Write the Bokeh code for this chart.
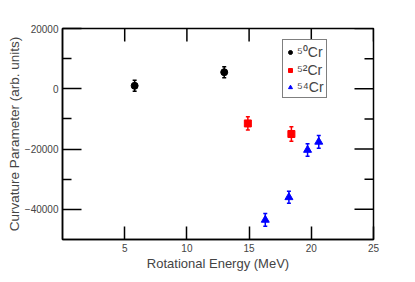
import math
from bokeh.plotting import figure
from bokeh.models import (ColumnDataSource, Whisker, FixedTicker, Legend, LegendItem, Range1d, TeeHead)
from bokeh.embed import file_html
from bokeh.resources import INLINE

# Data
cr50_x = [5.8, 13.0]
cr50_y = [1000, 5500]
cr50_err = [1800, 1800]

cr52_x = [14.9, 18.4]
cr52_y = [-11500, -15000]
cr52_err = [2200, 2400]

cr54_x = [16.3, 18.2, 19.7, 20.6]
cr54_y = [-43500, -36000, -20300, -17600]
cr54_err = [2100, 2000, 2100, 2100]

x_ticks = [5, 10, 15, 20, 25]
y_ticks = [-40000, -20000, 0, 20000]
y_minor = [-30000, -10000, 10000]
y_labels = {-40000: "\u221240000", -20000: "\u221220000", 0: "0", 20000: "20000"}

X_MIN, X_MAX = 0, 25
Y_MIN, Y_MAX = -50000, 20000

FONT = "Liberation Sans"

p = figure(width=410, height=278, output_backend="svg", toolbar_location=None,
           x_range=Range1d(X_MIN, X_MAX), y_range=Range1d(Y_MIN, Y_MAX),
           min_border_left=62, min_border_top=28, min_border_right=37, min_border_bottom=39,
           x_axis_label="Rotational Energy (MeV)",
           y_axis_label="Curvature Parameter (arb. units)")
p.grid.visible = False
p.outline_line_color = "black"
p.outline_line_width = 1.5

xa = p.xaxis[0]
xa.ticker = FixedTicker(ticks=x_ticks, minor_ticks=[])
xa.major_tick_in = 13
xa.major_tick_out = 0
xa.minor_tick_in = 0
xa.minor_tick_out = 0
xa.major_tick_line_width = 1.5
xa.axis_line_width = 1.5
xa.major_label_text_font = FONT
xa.major_label_text_font_size = "10px"
xa.major_label_standoff = 4
xa.axis_label_text_font = FONT
xa.axis_label_text_font_style = "normal"
xa.axis_label_text_font_size = "13px"
xa.axis_label_standoff = 1

ya = p.yaxis[0]
ya.ticker = FixedTicker(ticks=y_ticks, minor_ticks=y_minor)
ya.major_tick_in = 19
ya.major_tick_out = 0
ya.minor_tick_in = 9
ya.minor_tick_out = 0
ya.major_tick_line_width = 1.5
ya.minor_tick_line_width = 1.5
ya.minor_tick_line_color = "black"
ya.axis_line_width = 1.5
ya.major_label_overrides = y_labels
ya.major_label_text_font = FONT
ya.major_label_text_font_size = "10px"
ya.major_label_standoff = 4
ya.axis_label_text_font = FONT
ya.axis_label_text_font_style = "normal"
ya.axis_label_text_font_size = "13.5px"
ya.axis_label_standoff = 0

# mirrored ticks on top and right (dash markers clipped by the frame)
p.scatter(x=x_ticks, y=[Y_MAX] * len(x_ticks), marker="dash", angle=math.pi / 2,
          size=26, line_color="black", line_width=1.5)
p.scatter(x=[X_MAX] * len(y_ticks), y=y_ticks, marker="dash",
          size=38, line_color="black", line_width=1.5)
p.scatter(x=[X_MAX] * len(y_minor), y=y_minor, marker="dash",
          size=18, line_color="black", line_width=1.5)

items = []
series = [
    (cr50_x, cr50_y, cr50_err, "black", "circle", 7, "\u2075\u2070Cr"),
    (cr52_x, cr52_y, cr52_err, "red", "square", 7, "\u2075\u00b2Cr"),
    (cr54_x, cr54_y, cr54_err, "blue", "triangle", 8, "\u2075\u2074Cr"),
]
for xs, ys, es, col, mk, sz, lab in series:
    src = ColumnDataSource(dict(x=xs, y=ys, lo=[a - b for a, b in zip(ys, es)], hi=[a + b for a, b in zip(ys, es)]))
    w = Whisker(base="x", upper="hi", lower="lo", source=src, dimension="height",
                line_color=col, line_width=1.5,
                upper_head=TeeHead(size=4, line_color=col, line_width=1.5),
                lower_head=TeeHead(size=4, line_color=col, line_width=1.5))
    p.add_layout(w)
    r = p.scatter("x", "y", source=src, marker=mk, size=sz, fill_color=col, line_color=col)
    ln = p.line(x=[], y=[], line_color=col, line_width=1.5)
    items.append(LegendItem(label=lab, renderers=[ln, r]))

leg = Legend(items=items, location=(220, 141))
leg.glyph_width = 10
leg.glyph_height = 14
leg.label_height = 14
leg.label_standoff = 2
leg.padding = 2
leg.spacing = 1
leg.margin = 0
leg.label_text_font = FONT
leg.label_text_font_size = "14px"
leg.border_line_color = "black"
leg.border_line_width = 1.5
leg.background_fill_alpha = 1
p.add_layout(leg, "center")

open("out.html", "w").write(file_html(p, INLINE))
